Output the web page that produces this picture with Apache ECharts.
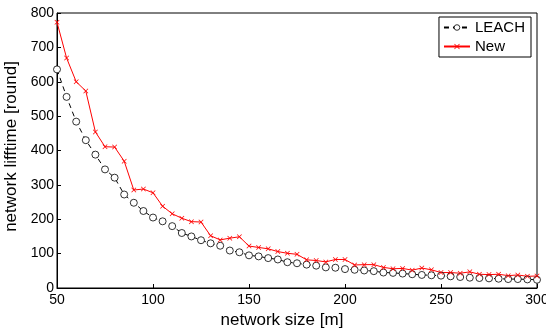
<!DOCTYPE html>
<html>
<head>
<meta charset="utf-8">
<script src="https://cdn.jsdelivr.net/npm/echarts@6/dist/echarts.min.js"></script>
<style>
  html, body { margin: 0; padding: 0; background: #fff; }
  #chart { width: 546px; height: 329px; }
</style>
</head>
<body>
<div id="chart"></div>
<script>
// network size [m], every 5 m
const sizes = [];
for (let s = 50; s <= 300; s += 5) sizes.push(s);

const leach = [636, 556, 484, 430, 388, 345, 321, 272, 248, 224,
  205, 194, 180, 160, 150, 139, 130, 123, 109, 104,
  95, 92, 87, 83, 75, 72, 68, 65, 60, 59,
  55, 53, 51, 49, 45, 44, 42, 40, 38, 37,
  36, 34, 32, 30, 29, 28, 27, 26, 26, 25, 24];
const newer = [773, 669, 600, 573, 454, 411, 410, 369, 285, 288,
  277, 238, 216, 203, 193, 192, 152, 140, 145, 149,
  122, 118, 114, 106, 101, 98, 82, 80, 76, 83,
  83, 67, 68, 68, 60, 56, 57, 52, 58, 53,
  45, 45, 43, 47, 40, 39, 40, 36, 38, 34, 35];

const pair = (ys) => sizes.map((x, i) => [x, ys[i]]);

const font = 'Liberation Sans, Arial, sans-serif';
const crossPath = 'path://M1,0L5,4L9,0L10,1L6,5L10,9L9,10L5,6L1,10L0,9L4,5L0,1Z';

const chart = echarts.init(document.getElementById('chart'));
chart.setOption({
  animation: false,
  grid: { left: 57, right: 9, top: 13, bottom: 41, outerBoundsMode: 'none', containLabel: false },
  legend: {
    right: 15, top: 17,
    orient: 'vertical',
    backgroundColor: '#fff',
    borderColor: '#000',
    borderWidth: 1,
    borderRadius: 0,
    padding: [3, 6, 3, 4],
    itemGap: 4,
    itemWidth: 26,
    itemHeight: 7,
    textStyle: { fontFamily: font, fontSize: 15, color: '#000' },
    data: [
      { name: 'LEACH', itemStyle: { borderWidth: 0.8 } },
      { name: 'New' }
    ]
  },
  xAxis: {
    type: 'value', min: 50, max: 300, interval: 50,
    name: 'network size [m]', nameLocation: 'middle', nameGap: 20,
    nameTextStyle: { fontFamily: font, fontSize: 17, color: '#000', padding: [0, 30, 0, 0] },
    axisLine: { lineStyle: { color: '#000', width: 1 } },
    axisTick: { inside: true, length: 4, lineStyle: { color: '#000' } },
    axisLabel: { fontFamily: font, fontSize: 14, color: '#000', margin: 5 },
    splitLine: { show: false }
  },
  yAxis: {
    type: 'value', min: 0, max: 800, interval: 100,
    name: 'network lifftime [round]', nameLocation: 'middle', nameGap: 27,
    nameTextStyle: { fontFamily: font, fontSize: 17, color: '#000', padding: [0, 0, 0, 8] },
    axisLine: { show: true, lineStyle: { color: '#000', width: 1 } },
    axisTick: { show: true, inside: true, length: 4, lineStyle: { color: '#000' } },
    axisLabel: { fontFamily: font, fontSize: 14, color: '#000', margin: 3 },
    splitLine: { show: false }
  },
  graphic: [{
    type: 'rect',
    shape: { x: 57, y: 13, width: 480, height: 275 },
    style: { fill: 'none', stroke: '#000', lineWidth: 1 },
    silent: true
  }],
  series: [
    {
      name: 'LEACH', type: 'line', data: pair(leach),
      symbol: 'circle', symbolSize: 7,
      itemStyle: { color: '#fff', borderColor: '#000', borderWidth: 0.8 },
      lineStyle: { color: '#000', width: 1, type: [5, 4] }
    },
    {
      name: 'New', type: 'line', data: pair(newer),
      symbol: crossPath, symbolSize: 5,
      itemStyle: { color: '#ff0000' },
      lineStyle: { color: '#ff0000', width: 1 }
    }
  ]
});
</script>
</body>
</html>
